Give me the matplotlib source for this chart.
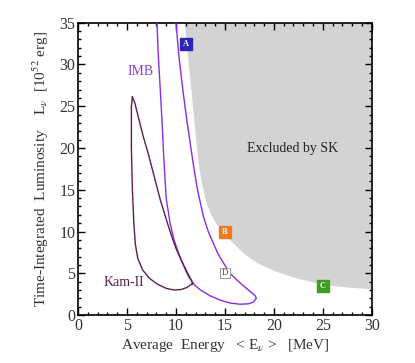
import numpy as np
import matplotlib.pyplot as plt

plt.rcParams['font.family'] = ['Liberation Serif', 'DejaVu Serif']
plt.rcParams['mathtext.fontset'] = 'stix'

# SK exclusion boundary (energy, luminosity)
sk_e = [10.9, 11.15, 11.4, 11.65, 11.9, 12.15, 12.4, 12.7, 13.1, 13.6, 14.2, 15.0, 16.0, 17.2, 18.5, 20.0, 22.0, 24.0, 26.0, 28.0, 30.0]
sk_l = [35.0, 32.0, 29.0, 26.0, 23.0, 20.0, 17.5, 15.5, 13.5, 12.0, 10.8, 9.7, 8.4, 7.1, 6.1, 5.3, 4.5, 3.9, 3.5, 3.25, 3.1]

# IMB contour (open at the top)
imb_e = [8.0, 8.06, 8.2, 8.35, 8.57, 8.75, 9.0, 9.4, 9.8, 10.3, 10.7, 11.0, 11.3, 11.6, 11.9,
         12.5, 13.5, 14.5, 15.5, 16.5, 17.4, 17.9, 18.2, 18.1, 17.5, 16.5, 15.5, 14.3, 13.3,
         12.8, 12.2, 11.8, 11.4, 11.1, 10.7, 10.3, 10.0, 9.95]
imb_l = [36.0, 35.0, 31.0, 28.0, 23.4, 19.0, 14.0, 11.0, 9.0, 7.3, 6.2, 5.3, 4.6, 4.1, 3.6,
         3.0, 2.3, 1.8, 1.45, 1.3, 1.35, 1.55, 2.0, 2.3, 2.9, 3.9, 5.0, 7.3, 10.0,
         11.8, 15.0, 17.8, 21.0, 23.4, 27.0, 31.0, 35.0, 36.0]

# Kamiokande-II contour (closed)
kam_e = [5.55, 5.45, 5.45, 5.55, 5.7, 5.85, 6.1, 6.6, 7.3, 8.1, 9.0, 9.8, 10.5, 11.1, 11.6, 11.7,
         11.6, 11.2, 10.6, 10.0, 9.4, 9.0, 8.4, 7.8, 7.2, 6.7, 6.2, 5.8, 5.55]
kam_l = [26.1, 25.0, 20.0, 15.0, 11.0, 8.5, 6.8, 5.4, 4.4, 3.7, 3.2, 3.0, 3.05, 3.3, 3.7, 3.7,
         4.1, 5.0, 6.4, 8.0, 10.0, 11.5, 13.8, 16.5, 19.2, 21.2, 23.5, 25.4, 26.1]

# model points
pt_names = ['A', 'B', 'C']
pt_e = [11.0, 15.0, 25.0]
pt_l = [32.5, 10.0, 3.5]
pt_colors = ['#2a24b8', '#f07a1e', '#3c9e1c']

fig = plt.figure(figsize=(4.15, 3.63), dpi=100)
ax = fig.add_axes([0.188, 0.132, 0.708, 0.8055])

# excluded region
fill_e = sk_e + [30.0, 30.0]
fill_l = sk_l + [35.0, 35.0]
ax.fill(fill_e, fill_l, color='#d3d3d3', lw=0, zorder=1)

ax.plot(imb_e, imb_l, color='#8a2be2', lw=1.0, zorder=3)
ax.plot(kam_e, kam_l, color='#5a1e4e', lw=1.0, zorder=3)

for name, e, l, c in zip(pt_names, pt_e, pt_l, pt_colors):
    ax.plot(e, l, 's', ms=8, color=c, mec=c, zorder=4)
    ax.text(e, l, name, color='white', fontsize=6, fontweight='bold',
            ha='center', va='center', zorder=5)

# open marker D
ax.plot(15.0, 5.0, 's', ms=7, mfc='white', mec='#888888', mew=0.6, zorder=4)
ax.text(15.0, 5.0, 'D', color='#444444', fontsize=6.5, ha='center', va='center', zorder=5)

ax.text(6.4, 29.1, 'IMB', color='#8a3fc8', fontsize=10, ha='center', va='center')
ax.text(4.65, 3.9, 'Kam-II', color='#5a1e4e', fontsize=10, ha='center', va='center')
ax.text(21.9, 19.9, 'Excluded by SK', color='#222222', fontsize=10, ha='center', va='center')

ax.set_xlim(0, 30)
ax.set_ylim(0, 35)
ax.set_xticks(np.arange(0, 31, 5))
ax.set_yticks(np.arange(0, 36, 5))
ax.set_xticks(np.arange(0, 31, 1), minor=True)
ax.set_yticks(np.arange(0, 36, 1), minor=True)
ax.tick_params(which='both', direction='in', top=True, right=True,
               labelsize=11.5, labelcolor='#333333', width=1.0)
ax.tick_params(which='major', length=5, pad=2)
ax.tick_params(which='minor', length=2.5)
for s in ax.spines.values():
    s.set_linewidth(1.2)

ax.set_xlabel(r'Average  Energy   < E$_\nu$ >   [MeV]', fontsize=11, color='#333333', labelpad=2)
ax.set_ylabel(r'Time-Integrated  Luminosity    L$_\nu$  [10$^{52}$ erg]', fontsize=11,
              color='#333333', labelpad=6)

fig.savefig('out.png', dpi=100)
